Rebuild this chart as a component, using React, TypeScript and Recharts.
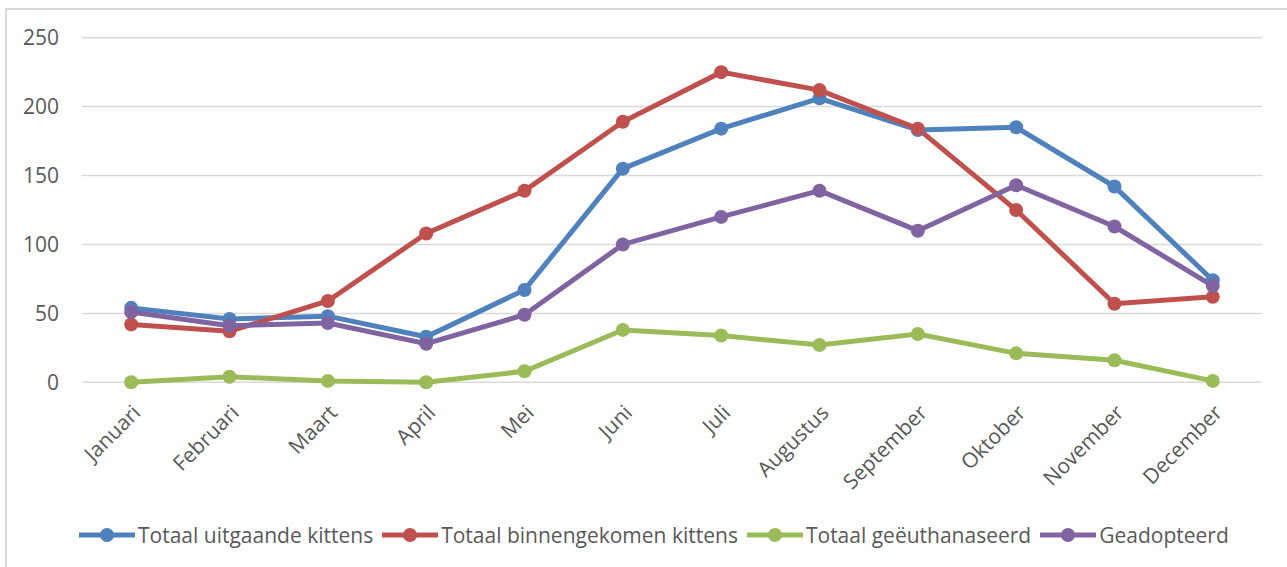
import React from 'react';
import { LineChart, Line, XAxis, YAxis, CartesianGrid } from 'recharts';

const months = ['Januari', 'Februari', 'Maart', 'April', 'Mei', 'Juni', 'Juli', 'Augustus', 'September', 'Oktober', 'November', 'December'];
const uitgaande = [54, 46, 48, 33, 67, 155, 184, 206, 183, 185, 142, 74];
const binnengekomen = [42, 37, 59, 108, 139, 189, 225, 212, 184, 125, 57, 62];
const geeuthanaseerd = [0, 4, 1, 0, 8, 38, 34, 27, 35, 21, 16, 1];
const geadopteerd = [51, 41, 43, 28, 49, 100, 120, 139, 110, 143, 113, 70];
const yTicks = [0, 50, 100, 150, 200, 250];

const series = [
  { key: 'uitgaande', name: 'Totaal uitgaande kittens', color: '#4F81BD', values: uitgaande },
  { key: 'binnengekomen', name: 'Totaal binnengekomen kittens', color: '#C0504D', values: binnengekomen },
  { key: 'geeuthanaseerd', name: 'Totaal geëuthanaseerd', color: '#9BBB59', values: geeuthanaseerd },
  { key: 'geadopteerd', name: 'Geadopteerd', color: '#8064A2', values: geadopteerd },
];

const data = months.map((m, i) => {
  const row: Record<string, string | number> = { month: m };
  series.forEach((s) => {
    row[s.key] = s.values[i];
  });
  return row;
});

const FONT = '"Open Sans", sans-serif';
const TEXT = '#595959';

const MonthTick = (props: any) => {
  const { x, y, payload } = props;
  const ax = x + 5;
  const ay = y + 18;
  return (
    <text
      x={ax}
      y={ay}
      transform={`rotate(-45, ${ax}, ${ay})`}
      textAnchor="end"
      dominantBaseline="central"
      fill={TEXT}
      fontSize={21}
      fontFamily={FONT}
    >
      {payload.value}
    </text>
  );
};

export default function App() {
  return (
    <div style={{ position: 'relative', width: 1287, height: 567, overflow: 'hidden', background: '#fff' }}>
      <style>{'body{margin:0;}'}</style>
      <div
        style={{
          position: 'absolute',
          left: 5,
          top: 8,
          width: 1300,
          height: 600,
          borderLeft: '2px solid #d9d9d9',
          borderTop: '2px solid #d9d9d9',
          boxSizing: 'border-box',
        }}
      />
      <div style={{ position: 'absolute', left: 0, top: 0 }}>
        <LineChart
          width={1287}
          height={567}
          data={data}
          margin={{ top: 37.7, right: 25, bottom: 84.7, left: 22 }}
        >
          <CartesianGrid vertical={false} stroke="#d9d9d9" strokeWidth={1.5} />
          <XAxis
            dataKey="month"
            axisLine={false}
            tickLine={false}
            height={100}
            interval={0}
            padding={{ left: 49.2, right: 49.2 }}
            tick={<MonthTick />}
          />
          <YAxis
            domain={[0, 250]}
            ticks={yTicks}
            axisLine={false}
            tickLine={false}
            tickSize={0}
            tickMargin={23}
            width={60}
            tick={{ fill: TEXT, fontSize: 21, fontFamily: FONT }}
          />
          {series.map((s) => (
            <Line
              key={s.key}
              dataKey={s.key}
              name={s.name}
              type="linear"
              stroke={s.color}
              strokeWidth={5}
              dot={{ r: 7, fill: s.color, stroke: s.color, strokeWidth: 0 }}
              activeDot={false}
              isAnimationActive={false}
            />
          ))}
        </LineChart>
      </div>
      <div
        style={{
          position: 'absolute',
          left: 79,
          top: 519,
          height: 32,
          display: 'flex',
          alignItems: 'center',
          fontFamily: FONT,
          fontSize: 21,
          color: TEXT,
          whiteSpace: 'nowrap',
        }}
      >
        {series.map((s, i) => (
          <div key={s.key} style={{ display: 'flex', alignItems: 'center', marginRight: i < series.length - 1 ? 9 : 0 }}>
            <svg width={56} height={16} style={{ marginRight: 3 }}>
              <line x1={0} y1={8} x2={56} y2={8} stroke={s.color} strokeWidth={5} />
              <circle cx={28} cy={8} r={7} fill={s.color} />
            </svg>
            <span>{s.name}</span>
          </div>
        ))}
      </div>
    </div>
  );
}
